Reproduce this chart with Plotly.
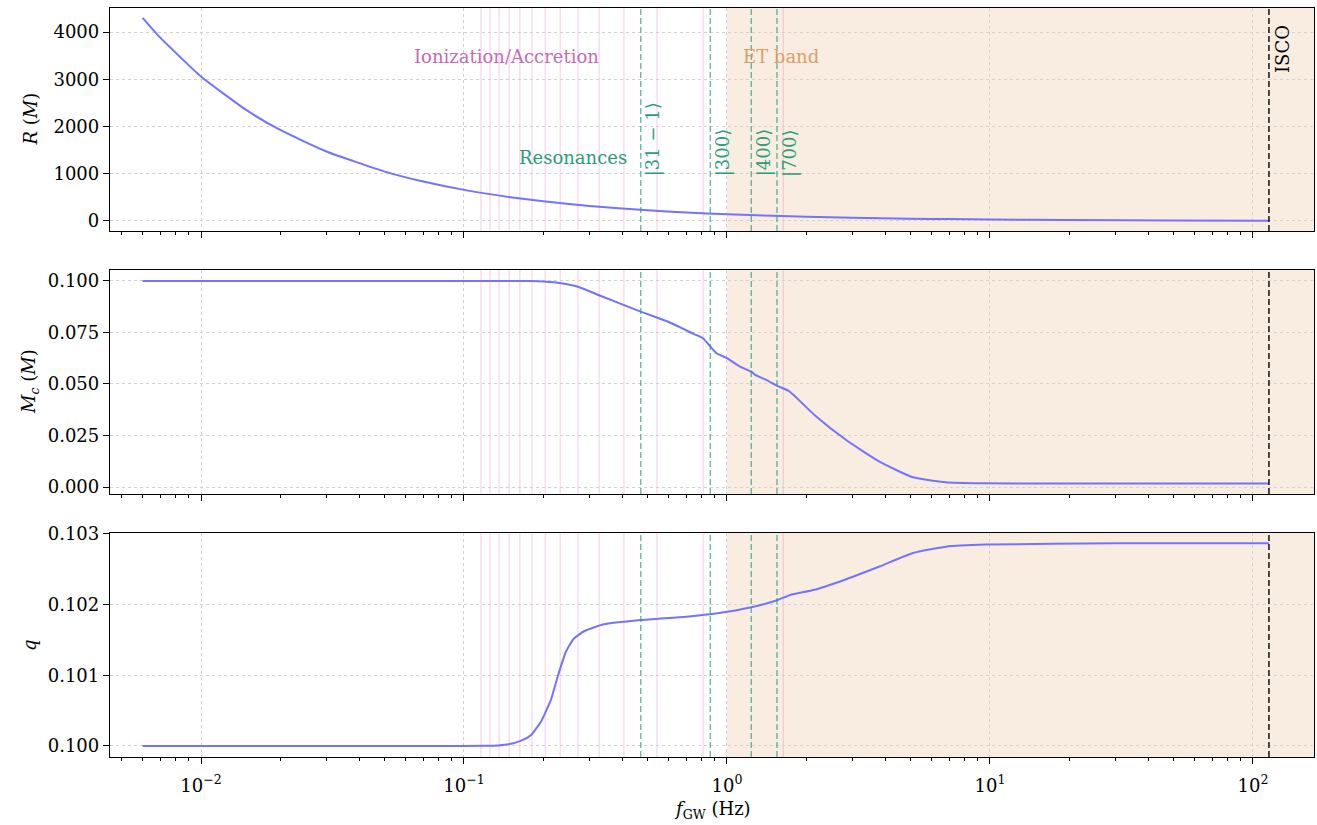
import math
import plotly.graph_objects as go
from plotly.subplots import make_subplots

# ---------------- data ----------------
f_R = [0.006, 0.007, 0.01, 0.015, 0.02, 0.03, 0.05, 0.07, 0.1, 0.15, 0.2, 0.3, 0.5,
       0.7, 1.0, 1.5, 2.0, 3.0, 5.0, 7.0, 10.0, 20.0, 50.0, 115.0]
R_vals = [4300, 3880, 3058, 2334, 1926, 1471, 1045, 834, 658, 503, 415, 317, 225,
          179, 142, 108, 89, 68, 49, 39, 31, 19, 10.5, 6]

f_mc = [0.006, 0.03, 0.1, 0.15, 0.18, 0.2, 0.234, 0.271, 0.332, 0.47, 0.595, 0.75, 0.81,
        0.855, 0.913, 1.0, 1.12, 1.237, 1.28, 1.415, 1.56, 1.72, 2.15, 2.84, 3.8,
        5.1, 6.8, 9.2, 20.0, 115.0]
mc_vals = [0.1, 0.1, 0.1, 0.09998, 0.09993, 0.0997, 0.0989, 0.0972, 0.0927, 0.0851, 0.0803,
           0.0742, 0.0722, 0.0689, 0.0649, 0.0625, 0.0584, 0.0560, 0.0544, 0.0519,
           0.0490, 0.0466, 0.0350, 0.0228, 0.0123, 0.0047, 0.0023, 0.0018, 0.0017, 0.0017]

f_q = [0.006, 0.03, 0.08, 0.12, 0.135, 0.148, 0.165, 0.18, 0.196, 0.214, 0.227, 0.244, 0.262,
       0.287, 0.34, 0.47, 0.7, 0.92, 1.237, 1.56, 1.74, 2.15, 2.84, 3.8, 5.1, 6.8, 9.7,
       30.0, 115.0]
q_vals = [0.1, 0.1, 0.1, 0.100002, 0.100008, 0.100024, 0.100075, 0.100156, 0.100344,
          0.100651, 0.10098, 0.101334, 0.10152, 0.101627, 0.101722, 0.101783, 0.10183,
          0.101877, 0.101962, 0.102066, 0.102137, 0.10221, 0.10236, 0.10254, 0.10273,
          0.10282, 0.10285, 0.10287, 0.10287]

ion_freqs = [0.116, 0.1256, 0.136, 0.1486, 0.163, 0.1814, 0.2038, 0.2323, 0.2712,
             0.3266, 0.4055, 0.5416, 0.8128, 1.637]
res_freqs = [0.470, 0.864, 1.237, 1.549]
res_labels = ["|31 − 1⟩", "|300⟩", "|400⟩", "|700⟩"]
et_band = [1.0, 1000.0]
f_isco = 115.0

xtick_vals = [0.01, 0.1, 1, 10, 100]
xtick_text = ["10<sup>−2</sup>", "10<sup>−1</sup>", "10<sup>0</sup>", "10<sup>1</sup>", "10<sup>2</sup>"]
minor_vals = [m * d for d in [0.001, 0.01, 0.1, 1, 10, 100] for m in range(2, 10)]

# ---------------- styling ----------------
FONT = "DejaVu Serif"
FS = 18
BLUE = "#7373ff"
PINK = "rgba(227,119,194,0.26)"
GREEN = "rgba(42,157,120,0.7)"
GREEN_TXT = "#2a9d78"
ET_FILL = "rgba(232,190,150,0.28)"

fig = make_subplots(rows=3, cols=1, shared_xaxes=True)
line_style = dict(color=BLUE, width=2, shape="spline", smoothing=0.5)
fig.add_trace(go.Scatter(x=f_R, y=R_vals, mode="lines", line=line_style,
                         showlegend=False), row=1, col=1)
fig.add_trace(go.Scatter(x=f_mc, y=mc_vals, mode="lines", line=line_style,
                         showlegend=False), row=2, col=1)
fig.add_trace(go.Scatter(x=f_q, y=q_vals, mode="lines", line=line_style,
                         showlegend=False), row=3, col=1)

domains = [[0.7023, 1.0], [0.3511, 0.6502], [0.0, 0.2991]]
yranges = [[-212, 4508], [-0.0034, 0.1053], [0.099844, 0.103014]]
ytickvals = [[0, 1000, 2000, 3000, 4000],
             [0.0, 0.025, 0.05, 0.075, 0.1],
             [0.100, 0.101, 0.102, 0.103]]
yticktext = [["0", "1000", "2000", "3000", "4000"],
             ["0.000", "0.025", "0.050", "0.075", "0.100"],
             ["0.100", "0.101", "0.102", "0.103"]]

GRID = "#d2d2d2"
shapes = []
for i in range(3):
    xs = "x" if i == 0 else f"x{i+1}"
    ys = "y" if i == 0 else f"y{i+1}"
    fig.update_xaxes(
        type="log", range=[-2.346, 2.232], tickmode="array", tickvals=xtick_vals,
        ticktext=xtick_text if i == 2 else [""] * 5, showticklabels=(i == 2),
        ticks="outside", ticklen=6, tickwidth=1.2, tickcolor="black", automargin=False,
        ticklabelstandoff=6,
        minor=dict(tickmode="array", tickvals=minor_vals, ticks="outside", ticklen=3,
                   tickwidth=1, tickcolor="black", showgrid=False),
        showgrid=True, gridcolor=GRID, griddash="dot", gridwidth=1.2,
        showline=True, mirror=True, linecolor="black", linewidth=1.3, zeroline=False,
        tickfont=dict(family=FONT, size=FS, color="black"),
        row=i + 1, col=1)
    fig.update_yaxes(
        domain=domains[i], range=yranges[i], tickmode="array", tickvals=ytickvals[i],
        ticktext=yticktext[i], ticks="outside", ticklen=6, tickwidth=1.2, tickcolor="black",
        automargin=False,
        showgrid=True, gridcolor=GRID, griddash="dot", gridwidth=1.2,
        showline=True, mirror=True, linecolor="black", linewidth=1.3, zeroline=False,
        tickfont=dict(family=FONT, size=FS, color="black"),
        row=i + 1, col=1)
    # ET band
    shapes.append(dict(type="rect", xref=xs, yref=f"{ys} domain", x0=et_band[0], x1=et_band[1],
                       y0=0, y1=1, fillcolor=ET_FILL, line=dict(width=0), layer="below"))
    for fi in ion_freqs:
        shapes.append(dict(type="line", xref=xs, yref=f"{ys} domain", x0=fi, x1=fi, y0=0, y1=1,
                           line=dict(color=PINK, width=1.5), layer="below"))
    for fr in res_freqs:
        shapes.append(dict(type="line", xref=xs, yref=f"{ys} domain", x0=fr, x1=fr, y0=0, y1=1,
                           line=dict(color=GREEN, width=1.4, dash="6px,3px"), layer="above"))
    shapes.append(dict(type="line", xref=xs, yref=f"{ys} domain", x0=f_isco, x1=f_isco, y0=0, y1=1,
                       line=dict(color="black", width=1.4, dash="6px,3px"), layer="above"))

annotations = [
    dict(x=-0.838, y=3471, xref="x", yref="y", text="Ionization/Accretion", showarrow=False,
         font=dict(family=FONT, size=FS, color="#c46bb3"), xanchor="center", yanchor="middle"),
    dict(x=0.205, y=3471, xref="x", yref="y", text="ET band", showarrow=False,
         font=dict(family=FONT, size=FS, color="#d9a066"), xanchor="center", yanchor="middle"),
    dict(x=-0.5856, y=1333, xref="x", yref="y", text="Resonances", showarrow=False,
         font=dict(family=FONT, size=FS, color=GREEN_TXT), xanchor="center", yanchor="middle"),
    dict(x=math.log10(f_isco), y=4200, xref="x", yref="y", text="ISCO", showarrow=False,
         textangle=-90, font=dict(family=FONT, size=FS, color="black"),
         xanchor="left", yanchor="top", xshift=1),
]
for fr, lab in zip(res_freqs, res_labels):
    annotations.append(dict(x=math.log10(fr), y=900, xref="x", yref="y", text=lab, showarrow=False,
                            textangle=-90, font=dict(family=FONT, size=FS, color=GREEN_TXT),
                            xanchor="left", yanchor="bottom", xshift=0))

# axis titles
ytitles = ["<i>R</i> (<i>M</i>)", "<i>M<sub>c</sub></i> (<i>M</i>)", "<i>q</i>"]
ycent = [(0.7023 + 1.0) / 2, (0.3511 + 0.6502) / 2, 0.2991 / 2]
for t, yc in zip(ytitles, ycent):
    annotations.append(dict(x=-(110 - 30) / 1204, y=yc, xref="paper", yref="paper", text=t,
                            showarrow=False, textangle=-90,
                            font=dict(family=FONT, size=FS, color="black"),
                            xanchor="center", yanchor="middle"))
annotations.append(dict(x=(712 - 110) / 1204, y=(757 - 810) / 749, xref="paper", yref="paper",
                        text="<i>f</i><sub>GW</sub> (Hz)", showarrow=False,
                        font=dict(family=FONT, size=FS, color="black"),
                        xanchor="center", yanchor="middle"))

fig.update_layout(
    width=1317, height=825,
    margin=dict(l=110, r=3, t=8, b=68, autoexpand=False),
    plot_bgcolor="white", paper_bgcolor="white",
    shapes=shapes, annotations=annotations,
    font=dict(family=FONT, size=FS, color="black"),
    showlegend=False,
)

fig.write_html("out.html", config={"displayModeBar": False},
               post_script="document.body.style.margin='0';document.body.style.overflow='hidden';")
